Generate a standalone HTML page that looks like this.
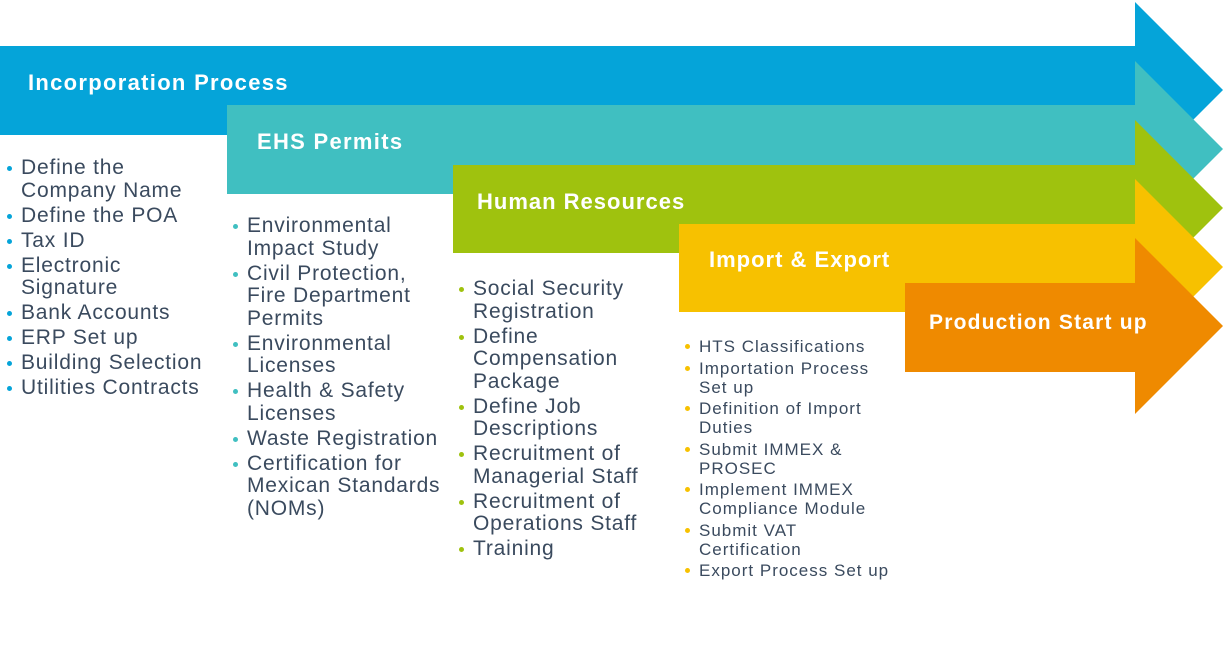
<!DOCTYPE html>
<html><head><meta charset="utf-8"><style>
body{margin:0;width:1224px;height:648px;background:#fff;position:relative;overflow:hidden;font-family:"Liberation Sans",sans-serif}
svg{position:absolute;left:0;top:0}
.t{position:absolute;color:#fff;font-weight:bold;white-space:nowrap;letter-spacing:1.3px;line-height:1}
ul{position:absolute;margin:0;padding:0;list-style:none;color:#3a4a5e;white-space:nowrap}
li{position:relative}
li::before{content:"";position:absolute;width:5px;height:5px;border-radius:50%;background:var(--c)}
.a{font-size:21px;line-height:22.5px;letter-spacing:0.8px}
.a li{padding-left:14px;margin-bottom:2.5px}
.a li::before{left:0;top:9px}
.b{font-size:17px;line-height:19px;letter-spacing:1px}
.b li{padding-left:14px;margin-bottom:2.5px}
.b li::before{left:0;top:7px}
</style></head><body>
<svg width="1224" height="648">
<polygon points="0,46 1135,46 1135,2 1223,90 1135,178 1135,135 0,135" fill="#05a4d9"/>
<polygon points="227,105 1135,105 1135,61 1223,149 1135,237 1135,194 227,194" fill="#40bfc1"/>
<polygon points="453,165 1135,165 1135,120 1223,208 1135,296 1135,253 453,253" fill="#9fc20e"/>
<polygon points="679,224 1135,224 1135,179 1223,267 1135,355 1135,312 679,312" fill="#f7c100"/>
<polygon points="905,283 1135,283 1135,238 1223,326 1135,414 1135,372 905,372" fill="#ef8a00"/>
</svg>
<div class="t" style="left:28px;top:72px;font-size:22px">Incorporation Process</div>
<div class="t" style="left:257px;top:131px;font-size:22px">EHS Permits</div>
<div class="t" style="left:477px;top:191px;font-size:22px;letter-spacing:1px">Human Resources</div>
<div class="t" style="left:709px;top:249px;font-size:22px;letter-spacing:1px">Import &amp; Export</div>
<div class="t" style="left:929px;top:312px;font-size:21px;letter-spacing:1.2px">Production Start up</div>

<ul class="a" style="left:7px;top:157px;--c:#05a4d9">
<li>Define the<br>Company Name</li><li>Define the POA</li><li>Tax ID</li><li>Electronic<br>Signature</li><li>Bank Accounts</li><li>ERP Set up</li><li>Building Selection</li><li>Utilities Contracts</li>
</ul>
<ul class="a" style="left:233px;top:215px;--c:#40bfc1">
<li>Environmental<br>Impact Study</li><li>Civil Protection,<br>Fire Department<br>Permits</li><li>Environmental<br>Licenses</li><li>Health &amp; Safety<br>Licenses</li><li>Waste Registration</li><li>Certification for<br>Mexican Standards<br>(NOMs)</li>
</ul>
<ul class="a" style="left:459px;top:278px;--c:#9fc20e">
<li>Social Security<br>Registration</li><li>Define<br>Compensation<br>Package</li><li>Define Job<br>Descriptions</li><li>Recruitment of<br>Managerial Staff</li><li>Recruitment of<br>Operations Staff</li><li>Training</li>
</ul>
<ul class="b" style="left:685px;top:337px;--c:#f7c100">
<li>HTS Classifications</li><li>Importation Process<br>Set up</li><li>Definition of Import<br>Duties</li><li>Submit IMMEX &amp;<br>PROSEC</li><li>Implement IMMEX<br>Compliance Module</li><li>Submit VAT<br>Certification</li><li>Export Process Set up</li>
</ul>
</body></html>
